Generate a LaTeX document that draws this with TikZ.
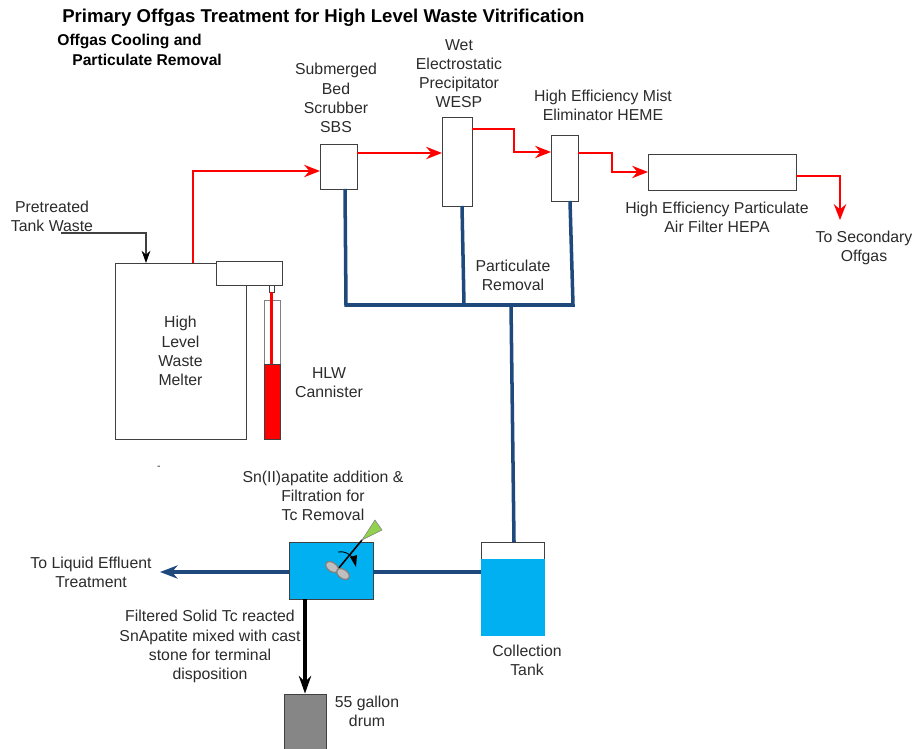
\documentclass[tikz,border=0pt]{standalone}
\usepackage{fontspec}
\setmainfont{Liberation Sans}
\usepackage{xcolor}
\usetikzlibrary{
  arrows.meta,
  positioning,
  calc
}
\definecolor{pipeblue}{HTML}{1F497D}
\definecolor{liquidblue}{HTML}{00B0F0}
\definecolor{boxline}{HTML}{404040}
\definecolor{labelink}{HTML}{2B2B2B}
\definecolor{paddlegreen}{HTML}{92D050}
\tikzset{
  unitbox/.style={draw=boxline,fill=white,inner sep=0pt,outer sep=0pt,line width=0.55pt},
  lbl/.style={align=center,inner sep=0pt,text=labelink,font=\fontsize{9}{10.9}\selectfont},
  boldlbl/.style={inner sep=0pt,anchor=west,text=black,font=\bfseries\fontsize{8.9}{10.9}\selectfont},
  offgas/.style={draw=red,line width=1.3pt,-{Stealth[length=9pt,width=7pt]}},
  liquid/.style={draw=pipeblue,line width=2pt},
  liquidout/.style={liquid,-{Stealth[length=10pt,width=7.5pt]}},
  solids/.style={draw=black,line width=2pt,-{Stealth[length=10pt,width=7pt]}},
  feed/.style={draw=boxline,line width=0.6pt,-{Stealth[length=7pt,width=5pt,color=black]}}
}
\begin{document}
\begin{tikzpicture}[x=0.02cm,y=-0.02cm,>=Stealth]
\useasboundingbox (0,0) rectangle (915,749);
\node[inner sep=0pt,anchor=west,font=\bfseries\fontsize{10.57}{12}\selectfont] (title) at (62,18) {Primary Offgas Treatment for High Level Waste Vitrification};
\node[boldlbl] (coolhead) at (57,41) {Offgas Cooling and};
\node[boldlbl] (coolhead2) at (72,60) {Particulate Removal};

\node[unitbox,minimum width=2.62cm,minimum height=3.52cm,lbl] (melter) at (180.5,351) {High\\Level\\Waste\\Melter};
\node[unitbox,minimum width=1.32cm,minimum height=0.48cm] (feeder) at (249,273) {};
\node[unitbox,minimum width=0.1cm,minimum height=0.14cm] (nozzle) at (271.5,289) {};
\node[unitbox,draw=gray,minimum width=0.32cm,minimum height=2.78cm] (canister) at (272,369.5) {};
\node[draw=boxline,fill=red,inner sep=0pt,line width=0.55pt,minimum width=0.32cm,minimum height=1.5cm] (glass) at (272,401.5) {};
\draw[red,line width=2.2pt] (nozzle.south) -- (glass.north -| nozzle.south);

\node[unitbox,minimum width=0.74cm,minimum height=0.9cm] (sbs) at (338.5,166.5) {};
\node[unitbox,minimum width=0.6cm,minimum height=1.78cm] (wesp) at (457,161.5) {};
\node[unitbox,minimum width=0.54cm,minimum height=1.32cm] (heme) at (564.5,168) {};
\node[unitbox,minimum width=2.96cm,minimum height=0.72cm] (hepa) at (722,172) {};

\node[draw=boxline,fill=liquidblue,inner sep=0pt,line width=0.4pt,minimum width=1.68cm,minimum height=1.14cm] (mixer) at (331,570.5) {};
\node[unitbox,minimum width=1.26cm,minimum height=0.34cm] (coltank) at (512.5,550.5) {};
\node[fill=liquidblue,inner sep=0pt,minimum width=1.28cm,minimum height=1.54cm] (tankliquid) at (512.5,597.5) {};
\node[draw=boxline,fill=gray!95,inner sep=0pt,line width=0.5pt,minimum width=0.84cm,minimum height=1.1cm] (drum) at (305,721.5) {};

\node[lbl] (sbslbl) at (336,98) {Submerged\\Bed\\Scrubber\\SBS};
\node[lbl] (wesplbl) at (459,73.5) {Wet\\Electrostatic\\Precipitator\\WESP};
\node[lbl] (hemelbl) at (603,105.5) {High Efficiency Mist\\Eliminator HEME};
\node[lbl] (hepalbl) at (717,217.5) {High Efficiency Particulate\\Air Filter HEPA};
\node[lbl] (seclbl) at (864,247.5) {To Secondary\\Offgas};
\node[lbl] (wastelbl) at (52,216) {Pretreated\\Tank Waste};
\node[lbl] (partlbl) at (513,275.5) {Particulate\\Removal};
\node[lbl] (hlwlbl) at (329,383) {HLW\\Cannister};
\node[lbl] (snlbl) at (323,496) {Sn(II)apatite addition \&\\Filtration for\\Tc Removal};
\node[lbl] (efflbl) at (91,572.5) {To Liquid Effluent\\Treatment};
\node[lbl] (solidlbl) at (210,646.5) {Filtered Solid Tc reacted\\SnApatite mixed with cast\\stone for terminal\\disposition};
\node[lbl] (collbl) at (527,660.5) {Collection\\Tank};
\node[lbl] (drumlbl) at (367,711.5) {55 gallon\\drum};
\node[lbl,font=\fontsize{6}{7}\selectfont] (dashmark) at (159,468) {-};

\coordinate (feedstart) at (61,233);
\coordinate (secout) at (840,220);
\coordinate (effout) at (160,572);
\coordinate (header) at (511,305);

\draw[feed] (feedstart) -| (melter.north -| 146,0);
\draw[offgas] (melter.north -| 193,0) |- (sbs.west |- 0,171);
\draw[offgas] (sbs.east |- 0,153) -- (wesp.west |- 0,153);
\draw[offgas] (wesp.east |- 0,129) -- (514,129) -- (514,152) -- (heme.west |- 0,152);
\draw[offgas] (heme.east |- 0,153) -- (612,153) -- (612,172) -- (hepa.west |- 0,172);
\draw[offgas] (hepa.east |- 0,176) -| (secout);

\draw[liquid] (sbs.south -| 345,0) -- (346,305) -- (573,305) -- (heme.south -| 570,0);
\draw[liquid] (wesp.south -| 462,0) -- (464,305);
\draw[liquid] (header) -- (coltank.north -| 514,0);
\draw[liquid] (coltank.west |- 0,572) -- (mixer.east |- 0,572);
\draw[liquidout] (mixer.west |- 0,572) -- (effout);
\draw[solids] (mixer.south -| 305,0) -- (drum.north -| 305,0);

\draw[black,line width=0.9pt] (362,540) -- (338,569);
\filldraw[draw=gray,fill=paddlegreen,line width=0.3pt] (362,540) -- (375,520) -- (382,530) -- cycle;
\filldraw[draw=gray,fill=lightgray,line width=0.7pt,rotate around={-35:(332,567)}] (332,567) ellipse (7 and 4.5);
\filldraw[draw=gray,fill=lightgray,line width=0.7pt,rotate around={-35:(343,574)}] (343,574) ellipse (7 and 4.5);
\draw[black,line width=0.5pt] (338,552) .. controls (344,551) and (348,553) .. (352,557);
\fill[black] (350,557) -- (357,555) -- (356,567) -- cycle;
\end{tikzpicture}
\end{document}
